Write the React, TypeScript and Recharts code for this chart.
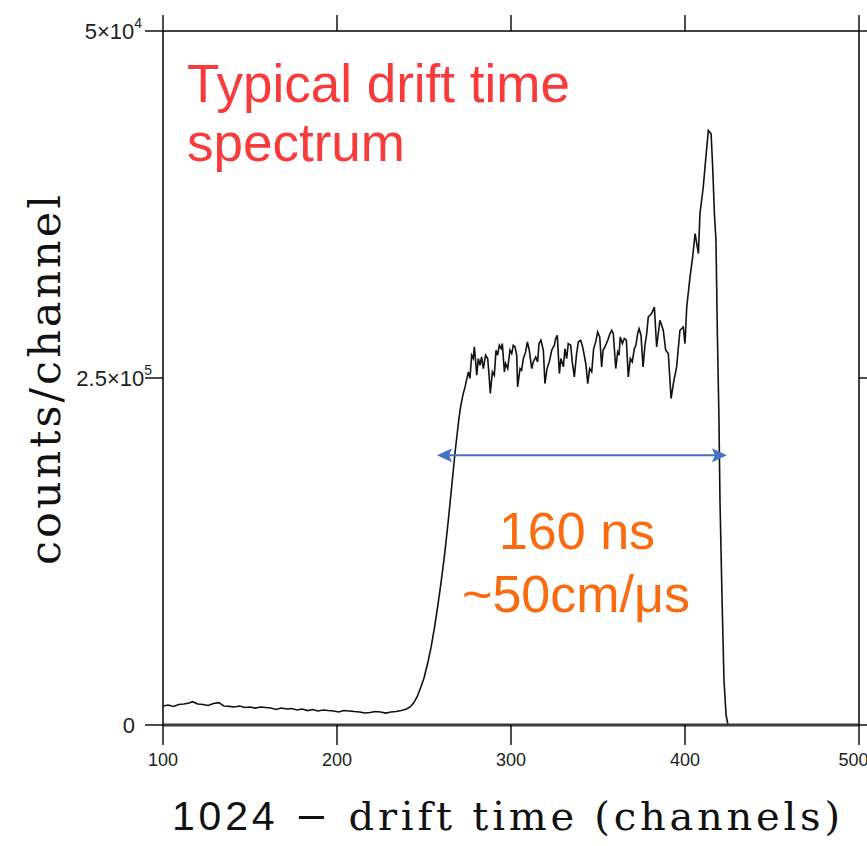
import React from "react";
import { LineChart, Line, XAxis, YAxis, ReferenceLine } from "recharts";

// channel (1024 - drift time) and counts per channel
const channels: number[] = [
  100, 103, 106, 109, 112, 115, 117, 120, 123, 126, 129, 132, 135, 138, 141, 144, 147, 150,
  153, 156, 159, 162, 165, 168, 171, 174, 177, 180, 183, 186, 189, 192, 195, 198, 201, 204,
  207, 210, 213, 216, 219, 222, 225, 228, 231, 234, 237, 240, 242, 244, 246, 248, 250, 252,
  254, 256, 258, 260, 262, 264, 266, 268, 270, 271, 272.4, 273.6,
  275.5, 276.4, 277.4, 278.3, 278.9, 279.7, 280.3, 281.2, 282.2, 283.1, 284.1, 285.4, 286.6,
  287.4, 288.1, 289.3, 290.4, 291.4, 292.3, 293.3, 294.3, 295.0, 296.2, 296.9, 298.1, 299.4,
  300.4, 301.3, 302.3, 303.3, 303.8, 305.2, 306.1, 307.1, 308.4, 309.4, 310.5, 311.9, 312.8,
  314.2, 315.3, 316.1, 317.2, 318.6, 319.5, 320.7, 322.0, 323.4, 324.9, 325.7, 326.6, 327.8,
  328.7, 330.1, 331.0, 332.0, 332.9, 334.3, 335.2, 336.4, 337.7, 338.7, 340.0, 341.2, 342.1,
  343.1, 344.1, 345.2, 346.4, 347.5, 348.7, 349.8, 351.0, 352.1, 352.9, 354.0, 355.6, 356.9,
  357.9, 358.8, 360.2, 361.3, 362.1, 362.8, 364.0, 365.1, 366.3, 367.4, 368.6, 369.7, 370.9,
  371.8, 372.8, 373.6, 374.7, 375.9, 377.0, 378.0, 378.9,
  380.8, 382.4, 383.7, 385.6, 387.5, 388.9, 390.4, 392.0, 393.3, 395.2, 397.1, 399.0, 400.0,
  401.0, 402.9, 404.4, 405.8, 407.7, 408.6, 410.5, 411.5, 413.4, 415.0, 415.9, 416.9, 417.8,
  418.6, 419.5, 420.1, 421.3, 422.4, 423.6, 424.7, 430, 500,
];

const counts: number[] = [
  13700, 14400, 13400, 14800, 15100, 15800, 16800, 15100, 14800, 14100, 15500, 16100, 13700,
  13400, 13000, 13700, 12600, 13000, 12200, 13000, 12600, 12200, 11200, 12200, 11500, 11900,
  10800, 11500, 10400, 11200, 10100, 10800, 10400, 10100, 9400, 10400, 10100, 9700, 9400, 8600,
  9000, 9700, 9400, 8600, 9400, 9700, 10400, 11500, 13000, 15800, 20200, 26700, 33900, 43900,
  55500, 69900, 86500, 104500, 124600, 147700, 172900, 198100, 220000, 229000, 238000, 243600,
  254400, 249600, 266400, 264000, 272400, 261600, 252000, 264000, 259200, 265200, 256800,
  266400, 264000, 252000, 238800, 254400, 252000, 270000, 266400, 273600, 271200, 274800,
  254400, 260400, 256800, 270000, 267600, 273600, 272400, 266400, 243600, 256800, 255600,
  264000, 268800, 276000, 270000, 256800, 261600, 265200, 261600, 274800, 277200, 270000,
  246000, 256800, 261600, 270000, 273600, 278400, 280800, 253200, 264000, 258000, 271200,
  264000, 274800, 273600, 261600, 250800, 267600, 276000, 277200, 272400, 266400, 259200,
  246000, 256800, 254400, 271200, 276000, 283200, 279600, 258000, 270000, 272400, 277200,
  282000, 284400, 282000, 256800, 268800, 266400, 279600, 274800, 278400, 277200, 250800,
  264000, 261600, 271200, 273600, 282000, 285600, 280800, 258000, 273600, 282000, 294000,
  296400, 301200, 272400, 291600, 284400, 270000, 267600, 235200, 246000, 258000, 284400,
  286800, 274800, 301200, 322800, 337200, 354000, 339600, 368400, 387600, 402000, 428400,
  426000, 402000, 368400, 349200, 282000, 222000, 162000, 90000, 32400, 7200, 0, 0, 0,
];

const xTicks: number[] = [100, 200, 300, 400, 500];
const yTicks: number[] = [0, 250000, 500000];
const yTickLabels: { base: string; sup: string }[] = [
  { base: "0", sup: "" },
  { base: "2.5×10", sup: "5" },
  { base: "5×10", sup: "4" },
];

const arrowFrom = { x: 257.5, y: 194400 };
const arrowTo = { x: 424.1, y: 194400 };

const data = channels.map((ch, i) => ({ ch, v: counts[i] }));

const TICK_FONT = "'Liberation Sans', Arial, sans-serif";
const SERIF = "'DejaVu Serif', 'Liberation Serif', serif";

const YTick = (props: any) => {
  const { x, y, payload } = props;
  const idx = yTicks.indexOf(payload.value);
  const lab = yTickLabels[idx] || { base: String(payload.value), sup: "" };
  if (!lab.sup) {
    return (
      <text x={x - 8} y={y} dy="0.36em" textAnchor="end" fontFamily={TICK_FONT} fontSize={22} fill="#222">
        {lab.base}
      </text>
    );
  }
  const dx = idx === 1 ? 9 : -1;
  return (
    <text x={x + dx} y={y} dy="0.36em" textAnchor="end" fontFamily={TICK_FONT} fontSize={22} fill="#222">
      {lab.base}
      <tspan fontSize={14} dy="-0.75em">{lab.sup}</tspan>
    </text>
  );
};

const Empty = () => <g />;

const ArrowShape = (props: any) => {
  const { x1, y1, x2, y2 } = props;
  const c = "#4472c4";
  const h = 15;
  const w = 7;
  return (
    <g>
      <line x1={x1 + 6} y1={y1} x2={x2 - 6} y2={y2} stroke={c} strokeWidth={2} />
      <polygon points={`${x1},${y1} ${x1 + h},${y1 - w} ${x1 + h - 3},${y1} ${x1 + h},${y1 + w}`} fill={c} />
      <polygon points={`${x2},${y2} ${x2 - h},${y2 - w} ${x2 - h + 3},${y2} ${x2 - h},${y2 + w}`} fill={c} />
    </g>
  );
};

export default function App() {
  return (
    <div style={{ position: "absolute", left: 0, top: 0, width: 867, height: 846, background: "#fff" }}>
      <LineChart
        width={867}
        height={846}
        data={data}
        margin={{ top: 15, right: 0, bottom: 81, left: 103 }}
      >
        <XAxis
          xAxisId="b"
          dataKey="ch"
          type="number"
          domain={[100, 500]}
          ticks={xTicks}
          allowDataOverflow
          height={40}
          tickSize={20}
          tickMargin={8}
          axisLine={{ stroke: "#3a3a3a", strokeWidth: 3 }}
          tickLine={{ stroke: "#000", strokeWidth: 1.4 }}
          tick={{ fontFamily: TICK_FONT, fontSize: 18, fill: "#222" }}
        />
        <XAxis
          xAxisId="t"
          orientation="top"
          dataKey="ch"
          type="number"
          domain={[100, 500]}
          ticks={xTicks}
          allowDataOverflow
          height={16}
          tickSize={16}
          axisLine={{ stroke: "#000", strokeWidth: 1.4 }}
          tickLine={{ stroke: "#000", strokeWidth: 1.4 }}
          tick={Empty}
        />
        <YAxis
          yAxisId="l"
          type="number"
          domain={[0, 500000]}
          ticks={yTicks}
          allowDataOverflow
          width={60}
          tickSize={18}
          axisLine={{ stroke: "#000", strokeWidth: 1.5 }}
          tickLine={{ stroke: "#000", strokeWidth: 1.4 }}
          tick={YTick}
        />
        <YAxis
          yAxisId="r"
          orientation="right"
          type="number"
          domain={[0, 500000]}
          ticks={yTicks}
          allowDataOverflow
          width={8}
          tickSize={8}
          axisLine={{ stroke: "#000", strokeWidth: 1.5 }}
          tickLine={{ stroke: "#000", strokeWidth: 1.4 }}
          tick={Empty}
        />
        <Line
          xAxisId="b"
          yAxisId="l"
          dataKey="v"
          type="linear"
          stroke="#111"
          strokeWidth={1.6}
          dot={false}
          isAnimationActive={false}
        />
        <ReferenceLine
          xAxisId="b"
          yAxisId="l"
          segment={[arrowFrom, arrowTo]}
          ifOverflow="visible"
          shape={ArrowShape}
        />
      </LineChart>
      <svg
        width={867}
        height={846}
        style={{ position: "absolute", left: 0, top: 0, pointerEvents: "none" }}
      >
        <text x={187} y={102} fontFamily={TICK_FONT} fontSize={53} fill="#f83a3a">
          Typical drift time
        </text>
        <text x={187} y={161} fontFamily={TICK_FONT} fontSize={53} fill="#f83a3a">
          spectrum
        </text>
        <text x={577} y={549} textAnchor="middle" fontFamily={TICK_FONT} fontSize={52} fill="#fa6a0e">
          160 ns
        </text>
        <text x={576} y={612} textAnchor="middle" fontFamily={TICK_FONT} fontSize={52} fill="#fa6a0e">
          ~50cm/μs
        </text>
        <text
          transform="translate(60,380) rotate(-90)"
          x={0}
          y={0}
          textAnchor="middle"
          fontFamily={SERIF}
          fontSize={43}
          fill="#111"
          textLength={370}
          lengthAdjust="spacing"
        >
          counts/channel
        </text>
        <text
          x={172}
          y={830}
          fontFamily={SERIF}
          fontSize={40}
          fill="#111"
          textLength={668}
          lengthAdjust="spacing"
        >
          <tspan fontFamily={TICK_FONT} fontSize={41}>1024</tspan>
          {"  −  drift  time  (channels)"}
        </text>
      </svg>
    </div>
  );
}
